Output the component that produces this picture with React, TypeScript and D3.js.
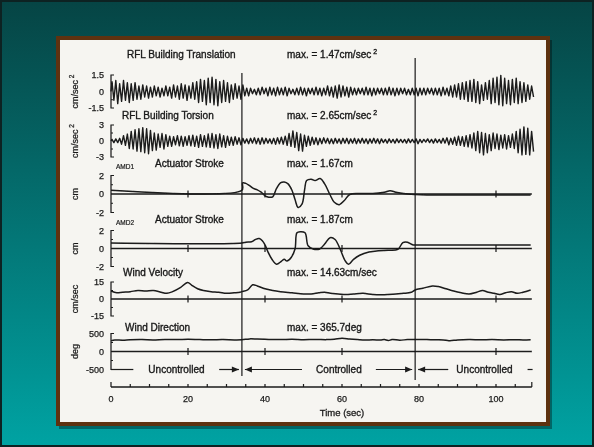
import React, { useEffect, useRef } from 'react';
import * as d3 from 'd3';

// time axis (sec)
const timeLabels = [0, 20, 40, 60, 80, 100];
const switchTimes = [34, 79]; // control switched on / off

// RFL building translation, [peak, trough] for each second (cm/sec^2)
const translation: [number, number][] = [
  [0.9, -0.8], [1.0, -1.1], [0.7, -0.9], [1.0, -0.8], [0.8, -1.0], [0.7, -0.8], [0.8, -0.7], [0.5, -0.7], [0.6, -0.5], [0.5, -0.6],
  [0.4, -0.5], [0.5, -0.4], [0.4, -0.5], [0.3, -0.4], [0.5, -0.4], [0.4, -0.6], [0.6, -0.5], [0.5, -0.7], [0.7, -0.6], [0.6, -0.8],
  [0.5, -0.6], [0.8, -0.7], [0.9, -1.0], [1.1, -0.9], [1.0, -1.2], [1.2, -1.0], [1.3, -1.2], [1.1, -1.3], [0.9, -1.0], [1.0, -0.9],
  [0.8, -1.0], [0.6, -0.7], [0.7, -0.6], [0.5, -0.7], [0.6, -0.4], [0.3, -0.4], [0.3, -0.2], [0.2, -0.3], [0.3, -0.3], [0.4, -0.2],
  [0.3, -0.4], [0.4, -0.3], [0.3, -0.4], [0.4, -0.3], [0.3, -0.3], [0.4, -0.4], [0.3, -0.2], [0.2, -0.3], [0.3, -0.3], [0.4, -0.3],
  [0.3, -0.4], [0.3, -0.2], [0.3, -0.3], [0.4, -0.3], [0.3, -0.4], [0.3, -0.3], [0.5, -0.4], [0.4, -0.5], [0.5, -0.6], [0.6, -0.5],
  [0.5, -0.4], [0.4, -0.5], [0.4, -0.3], [0.3, -0.3], [0.3, -0.2], [0.3, -0.3], [0.4, -0.3], [0.3, -0.4], [0.3, -0.3], [0.3, -0.2],
  [0.3, -0.3], [0.3, -0.3], [0.4, -0.3], [0.3, -0.4], [0.3, -0.3], [0.3, -0.2], [0.3, -0.3], [0.2, -0.3], [0.3, -0.3], [0.3, -0.4],
  [0.3, -0.3], [0.3, -0.3], [0.3, -0.2], [0.3, -0.3], [0.3, -0.3], [0.3, -0.4], [0.4, -0.3], [0.3, -0.4], [0.5, -0.5], [0.6, -0.5],
  [0.7, -0.7], [0.8, -0.7], [0.9, -0.9], [1.0, -0.9], [1.1, -1.0], [0.9, -1.1], [0.6, -0.8], [0.8, -0.7], [1.0, -1.1], [1.2, -1.0],
  [1.3, -1.2], [1.47, -1.3], [1.2, -1.1], [1.0, -1.2], [1.1, -1.0], [1.2, -1.1], [0.9, -1.0], [0.8, -0.9], [0.6, -0.7], [0.5, -0.5],
];

// RFL building torsion, [peak, trough] for each second (cm/sec^2)
const torsion: [number, number][] = [
  [0.3, -0.3], [0.4, -0.3], [0.5, -0.6], [1.0, -0.8], [1.3, -1.4], [1.8, -1.5], [2.1, -1.9], [2.3, -2.0], [2.5, -2.2], [2.3, -2.4],
  [2.0, -1.8], [1.5, -1.7], [1.3, -1.2], [1.4, -1.5], [1.2, -1.0], [0.9, -1.0], [0.8, -0.7], [1.0, -0.9], [0.9, -1.0], [0.8, -0.8],
  [1.0, -0.9], [1.1, -1.0], [0.9, -1.2], [1.2, -1.0], [1.0, -1.1], [1.3, -1.2], [1.4, -1.3], [1.2, -1.4], [1.3, -1.1], [1.0, -1.2],
  [0.9, -0.8], [0.7, -0.8], [0.8, -0.6], [0.6, -0.7], [0.5, -0.4], [0.4, -0.5], [0.5, -0.4], [0.6, -0.5], [0.5, -0.6], [0.6, -0.5],
  [0.5, -0.4], [0.4, -0.5], [0.5, -0.6], [0.6, -0.5], [0.7, -0.6], [0.9, -0.8], [1.4, -1.0], [1.9, -1.2], [1.6, -1.8], [1.3, -1.9],
  [1.1, -1.0], [0.9, -0.8], [0.7, -0.6], [0.6, -0.7], [0.5, -0.5], [0.6, -0.4], [0.5, -0.5], [0.4, -0.5], [0.5, -0.4], [0.4, -0.5],
  [0.5, -0.4], [0.5, -0.5], [0.4, -0.4], [0.5, -0.5], [0.4, -0.4], [0.5, -0.4], [0.4, -0.5], [0.4, -0.4], [0.5, -0.4], [0.4, -0.5],
  [0.4, -0.3], [0.3, -0.4], [0.4, -0.3], [0.3, -0.4], [0.4, -0.3], [0.3, -0.3], [0.3, -0.4], [0.4, -0.3], [0.3, -0.3], [0.4, -0.5],
  [0.3, -0.3], [0.3, -0.2], [0.4, -0.3], [0.3, -0.4], [0.4, -0.3], [0.3, -0.4], [0.5, -0.4], [0.6, -0.7], [0.5, -0.6], [0.7, -0.8],
  [0.9, -0.8], [0.8, -1.0], [1.0, -1.1], [1.2, -1.3], [1.5, -1.8], [1.8, -2.2], [1.6, -2.6], [1.4, -2.2], [1.2, -1.8], [1.5, -1.4],
  [1.3, -1.6], [1.1, -1.3], [1.2, -1.5], [1.0, -1.2], [1.3, -1.4], [1.8, -2.2], [2.2, -2.6], [2.65, -2.5], [2.4, -2.6], [1.8, -2.0],
];

// AMD1 actuator stroke, [time, cm]
const amd1: [number, number][] = [
  [0, 0.4], [34, 0.4], [34.2, 1.2], [35, 1.15], [36, 0.9], [37, 0.6], [38, 0.45], [39, 0.2], [40, -0.2], [41, -0.35],
  [42, -0.3], [43, 0.6], [44, 1.2], [45, 1.3], [46, 1.1], [47, 0.4], [47.8, -0.6], [48.6, -1.45], [49.6, -1.1], [50.3, 0.5],
  [50.8, 1.45], [52, 1.6], [53, 1.45], [54.3, 1.67], [55.5, 1.1], [56.8, 0], [58, -0.9], [59.3, -1.15], [60.6, -0.7], [62, -0.05],
  [65, 0.05], [68, 0.05], [71, 0.2], [72.5, 0.35], [74, 0.2], [76, 0.05], [79, -0.05], [82, -0.1], [109, -0.1],
];

// AMD2 actuator stroke, [time, cm]
const amd2: [number, number][] = [
  [0, 0.6], [34, 0.6], [35, 0.7], [36.5, 0.75], [37.5, 1.0], [38.5, 1.1], [39.3, 0.85], [40, 0.4], [40.8, -0.4], [41.8, -1.2],
  [43, -1.75], [44.3, -1.4], [45, -1.2], [45.7, -1.4], [46.8, -1.0], [47.8, -0.05], [48.3, 1.75], [49.2, 1.87], [50.4, 1.75], [51.2, 0.3],
  [52.5, -0.05], [54.2, -0.05], [55.5, 0.5], [56.9, 1.2], [58.2, 1.0], [59.5, -0.05], [60.8, -1.35], [61.7, -1.75], [63, -1.2], [64.6, -0.75],
  [67, -0.4], [69.5, -0.25], [72, -0.2], [74.5, -0.1], [75.8, 0.65], [77, 0.7], [78.5, 0.4], [80, 0.4], [109, 0.4],
];

// wind velocity, [time, cm/sec]
const windVelocity: [number, number][] = [
  [0, 7], [1.5, 5.5], [3, 6], [5, 6.5], [7, 7.5], [9, 7], [11, 7.5], [13, 6], [14.5, 5], [16, 6.5],
  [18, 10], [19.9, 14.6], [21, 12], [22.5, 9], [24, 7.5], [26, 6.5], [28, 6], [30, 5], [32, 5.5], [33.5, 6],
  [34, 6.5], [35.5, 8], [36.8, 12.5], [38, 11.5], [40, 9], [42, 7.5], [44, 6.5], [47, 5.5], [50, 4.5], [52, 4.5],
  [54, 5.5], [55.5, 6], [57, 5], [59, 4.5], [61, 4], [63, 4.5], [65.5, 5], [68, 4], [71, 3.8], [74, 4.5],
  [76, 5], [78, 6], [79, 8], [81, 9.5], [83.5, 11.5], [85, 11], [87, 9], [89, 7], [91, 5.5], [93, 4.5],
  [95, 6], [96.5, 7.5], [98, 6], [99.5, 5], [101, 4], [102.5, 5.5], [104, 6.5], [105.5, 5], [107, 6], [109, 8],
];

// wind direction, [time, deg]
const windDirection: [number, number][] = [
  [0, 300], [1, 320], [3, 315], [5, 325], [8, 330], [11, 322], [14, 335], [17, 330], [20, 340], [23, 332],
  [26, 325], [29, 330], [32, 322], [34, 325], [36, 350], [38, 345], [41, 335], [44, 330], [47, 338], [50, 328],
  [53, 335], [56, 330], [58, 340], [60, 365], [62, 345], [64, 330], [66, 318], [68, 325], [70, 320], [71, 330],
  [72, 305], [73, 330], [75, 315], [77, 330], [79, 335], [82, 330], [85, 325], [87, 315], [88, 300], [90, 320],
  [93, 330], [96, 325], [99, 330], [102, 322], [105, 328], [107, 320], [109, 325],
];

const titles = ['RFL Building Translation', 'RFL Building Torsion', 'Actuator Stroke', 'Actuator Stroke', 'Wind Velocity', 'Wind Direction'];
const maxLabels = ['max. = 1.47cm/sec', 'max. = 2.65cm/sec', 'max. = 1.67cm', 'max. = 1.87cm', 'max. = 14.63cm/sec', 'max. = 365.7deg'];
const maxSquared = [true, true, false, false, false, false];
const units = ['cm/sec', 'cm/sec', 'cm', 'cm', 'cm/sec', 'deg'];
const unitSquared = [true, true, false, false, false, false];
const yLimits = [1.5, 3, 2, 2, 15, 500];
const yTickLabels = [['1.5', '0', '-1.5'], ['3', '0', '-3'], ['2', '0', '-2'], ['2', '0', '-2'], ['15', '0', '-15'], ['500', '0', '-500']];
const actuatorNames = ['', '', 'AMD1', 'AMD2', '', ''];
const phases = ['Uncontrolled', 'Controlled', 'Uncontrolled'];

const FONT = "'Liberation Sans', Arial, sans-serif";
const INK = '#1a1a1a';

const App = () => {
  const svgRef = useRef<SVGSVGElement>(null);

  useEffect(() => {
    const svg = d3.select(svgRef.current);
    svg.selectAll('*').remove();

    const defs = svg.append('defs');
    const grad = defs.append('linearGradient').attr('id', 'bg').attr('x1', 0).attr('y1', 0).attr('x2', 0).attr('y2', 1);
    grad.append('stop').attr('offset', '0%').attr('stop-color', '#064444');
    grad.append('stop').attr('offset', '55%').attr('stop-color', '#037878');
    grad.append('stop').attr('offset', '100%').attr('stop-color', '#00a3a3');
    defs.append('filter').attr('id', 'soft')
      .append('feGaussianBlur').attr('stdDeviation', 0.35);

    // slide background
    svg.append('rect').attr('width', 594).attr('height', 447).attr('fill', 'url(#bg)');
    svg.append('rect').attr('x', 1).attr('y', 1).attr('width', 592).attr('height', 445)
      .attr('fill', 'none').attr('stroke', '#0d2222').attr('stroke-width', 2);

    // picture frame
    svg.append('rect').attr('x', 59).attr('y', 40).attr('width', 493).attr('height', 389)
      .attr('fill', '#000').attr('opacity', 0.35);
    svg.append('rect').attr('x', 58).attr('y', 38).attr('width', 490).attr('height', 386)
      .attr('fill', '#f6f5f1').attr('stroke', '#5e3210').attr('stroke-width', 4);

    const g = svg.append('g').attr('filter', 'url(#soft)');

    const x = d3.scaleLinear().domain([0, 110]).range([111, 111 + 110 * 3.85]);
    const tEnd = 109.3;

    const panels = [
      { c: 91.5, h: 16.5, titleX: 127, titleY: 58 },
      { c: 141, h: 16, titleX: 122, titleY: 119 },
      { c: 194, h: 18.5, titleX: 155, titleY: 167 },
      { c: 248.5, h: 18, titleX: 155, titleY: 223 },
      { c: 299, h: 17, titleX: 123, titleY: 276 },
      { c: 351.5, h: 18, titleX: 125, titleY: 331 },
    ];

    const oscillation = (pairs: [number, number][]) =>
      [[0, 0] as [number, number]].concat(pairs.flatMap(([hi, lo], k) => [[k + 0.25, hi], [k + 0.75, lo]] as [number, number][]));

    const series = [
      { pts: oscillation(translation), curve: d3.curveLinear, zero: false },
      { pts: oscillation(torsion), curve: d3.curveLinear, zero: false },
      { pts: amd1, curve: d3.curveCatmullRom.alpha(0.5), zero: true },
      { pts: amd2, curve: d3.curveCatmullRom.alpha(0.5), zero: true },
      { pts: windVelocity, curve: d3.curveCatmullRom.alpha(0.5), zero: true },
      { pts: windDirection, curve: d3.curveCatmullRom.alpha(0.5), zero: true },
    ];

    const label = (sel: d3.Selection<SVGTextElement, unknown, null, undefined>, size: number, bold = 0.35) =>
      sel.attr('font-family', FONT).attr('font-size', size).attr('fill', INK)
        .attr('stroke', INK).attr('stroke-width', bold);

    panels.forEach((p, i) => {
      const lim = yLimits[i];
      const y = d3.scaleLinear().domain([-lim, lim]).range([p.c + p.h, p.c - p.h]);
      const ax = x(0);

      // bracket style y axis
      g.append('path')
        .attr('d', `M${ax + 3},${y(lim)}H${ax}V${y(-lim)}H${ax + 3}`)
        .attr('fill', 'none').attr('stroke', INK).attr('stroke-width', 1.2);
      [lim / 2, -lim / 2].forEach(v => {
        g.append('line').attr('x1', ax).attr('x2', ax + 2).attr('y1', y(v)).attr('y2', y(v))
          .attr('stroke', INK).attr('stroke-width', 1);
      });
      yTickLabels[i].forEach((lab, j) => {
        const v = [lim, 0, -lim][j];
        label(g.append('text'), 9, 0.25).attr('x', 104).attr('y', y(v) + 3.2).attr('text-anchor', 'end').text(lab);
      });

      // unit label
      const ut = label(g.append('text'), 9, 0.25)
        .attr('transform', `translate(78,${p.c}) rotate(-90)`)
        .attr('text-anchor', 'middle')
        .text(units[i]);
      if (unitSquared[i]) ut.append('tspan').attr('dy', -4).attr('font-size', 6.5).text(' 2');

      // zero line with ticks
      if (series[i].zero) {
        g.append('line').attr('x1', ax).attr('x2', x(tEnd)).attr('y1', y(0)).attr('y2', y(0))
          .attr('stroke', INK).attr('stroke-width', 1.4);
        [20, 40, 60, 100].forEach(t => {
          g.append('line').attr('x1', x(t)).attr('x2', x(t)).attr('y1', y(0) - 3.5).attr('y2', y(0) + 3.5)
            .attr('stroke', INK).attr('stroke-width', 1.2);
        });
      }

      // signal
      const line = d3.line<[number, number]>().x(d => x(d[0])).y(d => y(d[1])).curve(series[i].curve);
      g.append('path').attr('d', line(series[i].pts))
        .attr('fill', 'none').attr('stroke', INK).attr('stroke-width', series[i].zero ? 1.5 : 1.4)
        .attr('stroke-linejoin', 'round');

      // titles
      label(g.append('text'), 10).attr('x', p.titleX).attr('y', p.titleY).text(titles[i]);
      const mt = label(g.append('text'), 10).attr('x', 287).attr('y', p.titleY).text(maxLabels[i]);
      if (maxSquared[i]) mt.append('tspan').attr('dy', -4).attr('font-size', 7).text(' 2');
      if (actuatorNames[i]) {
        label(g.append('text'), 6.5, 0.2).attr('x', 116).attr('y', p.titleY + 2).text(actuatorNames[i]);
      }
    });

    // control on / off markers
    const lineTops = [73, 58];
    const lineBottoms = [376, 380];
    switchTimes.forEach((t, i) => {
      g.append('line').attr('x1', x(t)).attr('x2', x(t)).attr('y1', lineTops[i]).attr('y2', lineBottoms[i])
        .attr('stroke', INK).attr('stroke-width', 1.2);
    });

    // phase annotation with arrows
    const ay = 369.5;
    const arrow = (x1: number, x2: number, head: 'left' | 'right') => {
      g.append('line').attr('x1', x1).attr('x2', x2).attr('y1', ay).attr('y2', ay)
        .attr('stroke', INK).attr('stroke-width', 1.2);
      const hx = head === 'right' ? x2 : x1;
      const dir = head === 'right' ? -1 : 1;
      g.append('path').attr('d', `M${hx},${ay}L${hx + dir * 7},${ay - 3}L${hx + dir * 7},${ay + 3}Z`).attr('fill', INK);
    };
    const [t1, t2] = switchTimes;
    g.append('line').attr('x1', x(0)).attr('x2', x(5.8)).attr('y1', ay).attr('y2', ay)
      .attr('stroke', INK).attr('stroke-width', 1.2);
    arrow(x(28.1), x(t1) - 3, 'right');
    arrow(x(t1) + 3, x(49.6), 'left');
    arrow(x(68.8), x(t2) - 3, 'right');
    arrow(x(t2) + 3, x(87.6), 'left');
    g.append('line').attr('x1', x(108.2)).attr('x2', x(109.5)).attr('y1', ay).attr('y2', ay)
      .attr('stroke', INK).attr('stroke-width', 1.2);
    [17, 59.2, 97].forEach((t, i) => {
      label(g.append('text'), 10).attr('x', x(t)).attr('y', ay + 3.5).attr('text-anchor', 'middle').text(phases[i]);
    });

    // time axis
    const axisY = 387;
    g.append('line').attr('x1', x(0)).attr('x2', x(tEnd)).attr('y1', axisY).attr('y2', axisY)
      .attr('stroke', INK).attr('stroke-width', 1.3);
    d3.range(0, 110, 5).concat([tEnd]).forEach(t => {
      const len = t === 0 || t === tEnd ? 5 : 3;
      g.append('line').attr('x1', x(t)).attr('x2', x(t)).attr('y1', axisY).attr('y2', axisY - len)
        .attr('stroke', INK).attr('stroke-width', 1.2);
    });
    timeLabels.forEach(t => {
      label(g.append('text'), 9, 0.25).attr('x', x(t)).attr('y', axisY + 15).attr('text-anchor', 'middle').text(String(t));
    });
    label(g.append('text'), 9.5, 0.3).attr('x', x(60)).attr('y', axisY + 29).attr('text-anchor', 'middle').text('Time (sec)');
  }, []);

  return (
    <svg ref={svgRef} width={594} height={447}
      style={{ position: 'fixed', left: 0, top: 0, display: 'block' }} />
  );
};

export default App;
